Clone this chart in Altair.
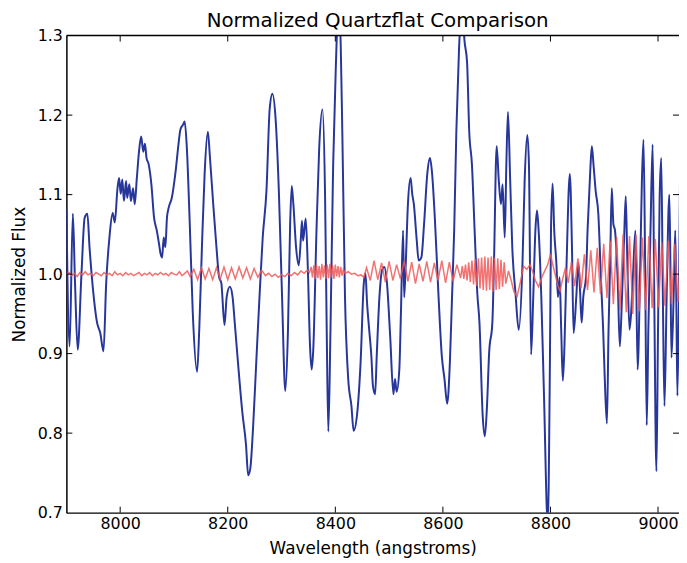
import altair as alt
import pandas as pd

# ---------------- data ----------------
blue_wl = [
    7900, 7906, 7912, 7916, 7921, 7928, 7934, 7939, 7943, 7949, 7957, 7963, 7969, 7974, 7980,
    7986, 7990, 7995, 7998, 8001, 8004, 8007, 8011, 8013, 8017, 8020, 8024, 8027, 8031, 8035,
    8039, 8043, 8046, 8049, 8053, 8058, 8063, 8068, 8072, 8075, 8078, 8081, 8084, 8087, 8090,
    8096, 8103, 8109, 8112, 8117, 8120, 8124, 8129, 8135, 8143, 8147, 8152, 8157, 8163, 8167,
    8173, 8179, 8184, 8188, 8194, 8198, 8204, 8209, 8213, 8219, 8227, 8234, 8238, 8242, 8247,
    8253, 8259, 8265, 8272, 8278, 8283, 8289, 8295, 8301, 8307, 8312, 8316, 8319, 8322, 8327,
    8332, 8336, 8338, 8340, 8345, 8349, 8353, 8356, 8359, 8365, 8370, 8376, 8381, 8384, 8387,
    8391, 8396, 8401, 8406, 8410, 8413, 8418, 8424, 8430, 8434, 8441, 8447, 8453, 8456, 8459,
    8463, 8467, 8470, 8474, 8477, 8482, 8487, 8491, 8496, 8502, 8508, 8511, 8514, 8519, 8522,
    8526, 8528, 8531, 8535, 8540, 8543, 8546, 8551, 8555, 8560, 8565, 8571, 8576, 8580, 8585,
    8592, 8598, 8603, 8608, 8613, 8617, 8621, 8625, 8630, 8636, 8640, 8645, 8649, 8654, 8659,
    8664, 8668, 8674, 8678, 8682, 8686, 8692, 8695, 8700, 8704, 8708, 8711, 8715, 8718, 8721,
    8725, 8729, 8735, 8741, 8748, 8752, 8757, 8760, 8764, 8768, 8772, 8775, 8778, 8783, 8788,
    8795, 8799, 8801, 8804, 8807, 8811, 8814, 8817, 8820, 8823, 8826, 8830, 8836, 8840, 8843,
    8848, 8852, 8855, 8858, 8861, 8866, 8869, 8874, 8877, 8880, 8884, 8889, 8894, 8898, 8901,
    8905, 8908, 8911, 8914, 8917, 8920, 8925, 8929, 8933, 8937, 8940, 8943, 8947, 8950, 8953,
    8958, 8962, 8967, 8970, 8973, 8976, 8979, 8982, 8986, 8990, 8993, 8997, 9000, 9003, 9006,
    9009, 9012, 9016, 9021, 9023, 9025, 9029, 9032, 9034, 9036, 9039, 9041,
]
blue_flux = [
    1.082, 0.909, 1.076, 0.990, 0.905, 1.000, 1.071, 1.076, 1.034, 0.984, 0.939, 0.926, 0.903, 0.989, 1.046,
    1.077, 1.065, 1.108, 1.121, 1.101, 1.119, 1.092, 1.117, 1.096, 1.113, 1.092, 1.108, 1.088, 1.121, 1.154,
    1.173, 1.154, 1.164, 1.146, 1.138, 1.113, 1.071, 1.055, 1.039, 1.026, 1.021, 1.046, 1.034, 1.071, 1.083,
    1.096, 1.129, 1.167, 1.182, 1.188, 1.192, 1.158, 1.071, 0.951, 0.877, 0.930, 1.034, 1.126, 1.179, 1.146,
    1.088, 1.034, 0.996, 0.989, 0.936, 0.971, 0.984, 0.971, 0.939, 0.889, 0.827, 0.785, 0.747, 0.756, 0.806,
    0.889, 0.971, 1.046, 1.105, 1.208, 1.227, 1.195, 1.105, 0.971, 0.853, 0.930, 1.063, 1.111, 1.088, 1.034,
    1.011, 1.046, 1.067, 1.042, 1.070, 1.005, 0.909, 0.880, 0.905, 1.055, 1.158, 1.207, 1.096, 0.930, 0.802,
    0.930, 1.138, 1.262, 1.340, 1.290, 1.179, 0.971, 0.868, 0.834, 0.803, 0.827, 0.889, 0.989, 1.001, 0.964,
    0.930, 0.897, 0.859, 0.849, 0.897, 0.971, 1.005, 1.009, 0.989, 0.922, 0.849, 0.868, 0.852, 0.880, 0.951,
    1.055, 0.971, 1.014, 1.088, 1.121, 1.101, 1.088, 1.046, 1.017, 1.021, 1.063, 1.126, 1.146, 1.126, 1.071,
    0.971, 0.897, 0.868, 0.837, 0.889, 0.971, 1.055, 1.179, 1.283, 1.340, 1.295, 1.266, 1.179, 1.138, 1.055,
    0.976, 0.939, 0.822, 0.796, 0.834, 0.901, 0.939, 1.014, 1.161, 1.117, 1.088, 1.113, 1.046, 1.138, 1.204,
    1.121, 1.034, 0.976, 0.930, 1.014, 1.117, 1.175, 1.138, 0.899, 0.971, 1.055, 1.080, 1.055, 0.971, 0.847,
    0.685, 0.889, 1.055, 1.114, 1.055, 1.014, 0.971, 0.996, 0.930, 0.866, 0.909, 1.014, 1.126, 1.034, 0.926,
    0.971, 1.014, 0.980, 0.939, 0.971, 0.996, 1.055, 1.130, 1.161, 1.138, 1.105, 1.076, 0.992, 0.930, 0.868,
    0.812, 0.930, 1.014, 1.108, 1.063, 1.055, 0.992, 0.909, 0.971, 1.046, 1.098, 1.014, 0.930, 0.951, 0.992,
    1.055, 0.880, 1.014, 1.117, 1.169, 1.014, 0.810, 0.930, 1.055, 1.163, 0.971, 0.752, 0.930, 1.096, 1.146,
    0.971, 0.834, 0.971, 1.100, 1.014, 0.895, 0.971, 1.055, 0.971, 0.847, 0.971, 1.130,
]

red_wl = [
    # quiet part
    7900, 7905, 7910, 7915, 7920, 7925, 7930, 7935, 7940, 7945, 7950, 7955, 7960, 7965, 7970,
    7975, 7980, 7985, 7990, 7995, 8000, 8005, 8010, 8015, 8020, 8025, 8030, 8035, 8040, 8045,
    8050, 8055, 8060, 8065, 8070, 8075, 8080, 8085, 8090, 8095, 8100, 8105, 8110, 8115, 8120,
    8125, 8130,
    # first ripple
    8137, 8144, 8151, 8158, 8165, 8172, 8179, 8186, 8193, 8200, 8207, 8214, 8221, 8228, 8235,
    8242, 8249, 8256, 8263, 8270,
    # quiet
    8276, 8282, 8288, 8294, 8300, 8306, 8312, 8318, 8324, 8330, 8336, 8342, 8348, 8352,
    # fast ripple
    8355, 8357.5, 8360, 8362.5, 8365, 8367.5, 8370, 8372.5, 8375, 8377.5, 8380, 8382.5, 8385,
    8387.5, 8390, 8392.5, 8395, 8397.5, 8400, 8402.5, 8405, 8407.5, 8410, 8412.5, 8415, 8418,
    # quiet
    8424, 8430, 8436, 8442, 8448, 8453,
    # medium ripple
    8458, 8465, 8472, 8479, 8486, 8493, 8500, 8507, 8514, 8521, 8528, 8535, 8542, 8549, 8556,
    8563, 8570, 8577, 8584, 8591, 8598, 8605, 8612, 8619, 8626, 8633,
    # fast, growing ripple
    8636, 8639, 8642, 8645, 8648, 8651, 8654, 8657, 8660, 8663, 8666, 8669, 8672, 8675, 8678,
    8681, 8684, 8687, 8690, 8693, 8696, 8699, 8702, 8705, 8708, 8711, 8714, 8717,
    # slow waves
    8722, 8727, 8732, 8738, 8744, 8750, 8756, 8762, 8767, 8772, 8778, 8784, 8790, 8795, 8800,
    8805, 8810, 8814, 8818, 8823, 8828, 8833,
    # large ripple
    8839, 8845, 8851, 8857, 8863, 8869, 8875, 8881, 8887, 8893, 8899, 8905, 8911, 8917, 8923,
    8929, 8935, 8941, 8947, 8953, 8959, 8965, 8971, 8977, 8983, 8989, 8995, 9001, 9007, 9013,
    9019, 9025, 9031, 9037, 9043,
]
red_flux = [
    1.000, 1.002, 0.998, 1.001, 0.997, 1.002, 0.999, 1.003, 0.999, 1.001, 0.998, 1.002, 1.000, 0.998, 1.002,
    0.999, 1.001, 0.998, 1.003, 0.999, 1.001, 0.998, 1.002, 0.999, 1.001, 0.998, 1.000, 1.002, 0.998, 1.001,
    0.999, 1.002, 0.998, 1.001, 0.999, 1.002, 0.999, 1.001, 0.998, 1.002, 1.000, 0.999, 1.003, 0.998, 1.001,
    1.004, 0.997,
    1.006, 0.993, 1.008, 0.994, 1.007, 0.993, 1.008, 0.994, 1.009, 0.993, 1.008, 0.994, 1.009, 0.995, 1.008,
    0.994, 1.007, 0.996, 1.005, 0.998,
    1.001, 0.997, 1.000, 0.996, 0.999, 0.997, 1.001, 0.998, 1.002, 0.999, 1.004, 1.001, 1.005, 1.002,
    1.009, 0.996, 1.011, 0.994, 1.012, 0.995, 1.010, 0.993, 1.013, 0.996, 1.011, 0.994, 1.012,
    0.995, 1.013, 0.996, 1.011, 0.994, 1.012, 0.997, 1.010, 0.996, 1.009, 0.998, 1.006, 1.001,
    1.003, 1.000, 1.001, 0.998, 0.999, 0.996,
    1.008, 0.992, 1.017, 0.993, 1.014, 0.990, 1.016, 0.992, 1.012, 0.994, 1.017, 0.991, 1.015, 0.988, 1.013,
    0.991, 1.016, 0.990, 1.014, 0.992, 1.017, 0.989, 1.015, 0.991, 1.012, 0.995,
    1.010, 0.994, 1.012, 0.992, 1.015, 0.990, 1.017, 0.987, 1.019, 0.985, 1.020, 0.982, 1.021, 0.980, 1.022,
    0.979, 1.021, 0.980, 1.022, 0.978, 1.021, 0.980, 1.020, 0.981, 1.018, 0.984, 1.015, 0.988,
    1.004, 0.992, 0.978, 0.972, 0.990, 1.010, 1.006, 1.012, 1.003, 0.992, 0.984, 0.996, 1.005, 1.012, 1.025,
    1.010, 0.996, 0.985, 0.979, 0.995, 1.008, 0.989,
    1.015, 0.985, 1.020, 0.982, 1.025, 0.980, 1.030, 0.977, 1.033, 0.975, 1.038, 0.970, 1.042, 0.962, 1.047,
    0.955, 1.050, 0.952, 1.048, 0.950, 1.050, 0.953, 1.046, 0.955, 1.048, 0.957, 1.044, 0.958, 1.040, 0.960,
    1.042, 0.962, 1.038, 0.965, 1.035,
]

x_ticks = [8000, 8200, 8400, 8600, 8800, 9000]
y_ticks = [0.7, 0.8, 0.9, 1.0, 1.1, 1.2, 1.3]

# ---------------- styling ----------------
W, H = 619, 482
FONT = "DejaVu Sans"
BLUE = "#27369a"
RED = "#f05858"
TICK = 6

xscale = alt.Scale(domain=[7900, 9039], nice=False, zero=False)
yscale = alt.Scale(domain=[0.7, 1.3], nice=False, zero=False)

blue_df = pd.DataFrame({"wl": blue_wl, "flux": blue_flux})
red_df = pd.DataFrame({"wl": red_wl, "flux": red_flux})
xt_df = pd.DataFrame({"v": x_ticks})
yt_df = pd.DataFrame({"v": y_ticks[1:-1]})
one_df = pd.DataFrame({"a": [0]})

x_axis = alt.Axis(
    orient="bottom", values=x_ticks, format="d", title="Wavelength (angstroms)",
    grid=False, ticks=False, tickSize=0, domain=True, domainColor="black", domainWidth=1.5,
    labelFont=FONT, labelFontSize=16, labelColor="black", labelPadding=3, labelFlush=False,
    titleFont=FONT, titleFontSize=17, titleFontWeight="normal", titleColor="black", titlePadding=9,
)
y_axis = alt.Axis(
    orient="left", values=y_ticks, format=".1f", title="Normalized Flux",
    grid=False, ticks=False, tickSize=0, domain=True, domainColor="black", domainWidth=1.5,
    labelFont=FONT, labelFontSize=16, labelColor="black", labelPadding=4, labelFlush=False,
    titleFont=FONT, titleFontSize=17, titleFontWeight="normal", titleColor="black", titlePadding=9,
)

blue = alt.Chart(blue_df).mark_line(
    color=BLUE, strokeWidth=2, clip=True, interpolate="monotone"
).encode(
    x=alt.X("wl:Q", scale=xscale, axis=x_axis),
    y=alt.Y("flux:Q", scale=yscale, axis=y_axis),
)

red = alt.Chart(red_df).mark_line(
    color=RED, strokeWidth=1.5, opacity=0.85, clip=True
).encode(
    x=alt.X("wl:Q", scale=xscale),
    y=alt.Y("flux:Q", scale=yscale),
)

ticks_bottom = alt.Chart(xt_df).mark_rule(color="black", strokeWidth=1).encode(
    x=alt.X("v:Q", scale=xscale), y=alt.value(H - TICK), y2=alt.value(H)
)
ticks_top = alt.Chart(xt_df).mark_rule(color="black", strokeWidth=1).encode(
    x=alt.X("v:Q", scale=xscale), y=alt.value(0), y2=alt.value(TICK)
)
ticks_left = alt.Chart(yt_df).mark_rule(color="black", strokeWidth=1).encode(
    y=alt.Y("v:Q", scale=yscale), x=alt.value(0), x2=alt.value(TICK)
)
ticks_right = alt.Chart(yt_df).mark_rule(color="black", strokeWidth=1).encode(
    y=alt.Y("v:Q", scale=yscale), x=alt.value(W - TICK), x2=alt.value(W)
)
top_spine = alt.Chart(one_df).mark_rule(color="black", strokeWidth=1.5).encode(
    x=alt.value(0), x2=alt.value(W), y=alt.value(0)
)

chart = alt.layer(
    blue, red, ticks_bottom, ticks_top, ticks_left, ticks_right, top_spine
).properties(
    width=W,
    height=H,
    title=alt.TitleParams(
        text="Normalized Quartzflat Comparison", font=FONT, fontSize=20,
        fontWeight="normal", color="black", anchor="middle", offset=1, dx=5, dy=4,
    ),
    autosize=alt.AutoSizeParams(type="none"),
    padding={"left": 59, "top": 25, "right": 0, "bottom": 48},
).configure_view(stroke="transparent")

chart.save("out.html", embed_options={"renderer": "svg", "actions": False})
